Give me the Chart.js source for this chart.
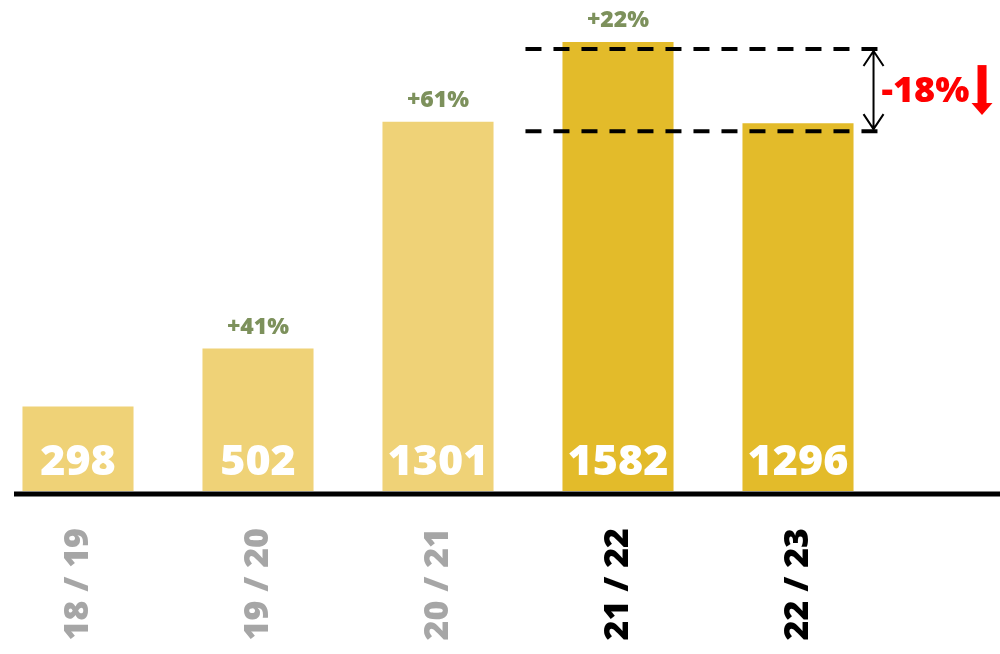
<!DOCTYPE html>
<html>
<head>
<meta charset="utf-8">
<script src="https://cdn.jsdelivr.net/npm/chart.js@4"></script>
<style>
    html, body { margin: 0; padding: 0; background: #fff; overflow: hidden; }
    #wrap { position: absolute; left: -12px; top: 0; width: 1012px; height: 654px; }
</style>
</head>
<body>
<div id="wrap"><canvas id="chart"></canvas></div>
<script>
// Data
var seasons = ['18 / 19', '19 / 20', '20 / 21', '21 / 22', '22 / 23'];
var counts = [298, 502, 1301, 1582, 1296];
var growthLabels = ['', '+41%', '+61%', '+22%', ''];
var dropLabel = '-18%';

var barColors = ['#efd277', '#efd277', '#efd277', '#e3bb2a', '#e3bb2a'];
var tickColors = ['#a6a6a6', '#a6a6a6', '#a6a6a6', '#000000', '#000000'];
var FONT = '"Open Sans", sans-serif';

// Draws value labels, growth labels, baseline and the drop annotation
var annotations = {
    id: 'annotations',
    afterDatasetsDraw: function(chart) {
        var ctx = chart.ctx;
        var bars = chart.getDatasetMeta(0).data;
        ctx.save();

        // values inside bars
        ctx.textAlign = 'center';
        ctx.textBaseline = 'alphabetic';
        ctx.fillStyle = '#ffffff';
        ctx.font = '800 43px ' + FONT;
        bars.forEach(function(bar, i) {
            ctx.fillText(String(counts[i]), bar.x, bar.base - 16);
        });

        // growth above bars
        ctx.fillStyle = '#7d915c';
        ctx.font = '800 23px ' + FONT;
        bars.forEach(function(bar, i) {
            if (growthLabels[i]) ctx.fillText(growthLabels[i], bar.x, bar.y - 15);
        });

        // baseline
        ctx.strokeStyle = '#000';
        ctx.lineWidth = 5;
        ctx.beginPath();
        ctx.moveTo(26, bars[0].base + 3);
        ctx.lineTo(chart.width, bars[0].base + 3);
        ctx.stroke();

        // dashed guides between 21/22 and 22/23
        var hi = bars[3], lo = bars[4];
        var x0 = hi.x - hi.width / 2 - 37;
        var x1 = lo.x + lo.width / 2 + 28;
        var yHi = hi.y + 7, yLo = lo.y + 8;
        ctx.lineWidth = 4;
        ctx.setLineDash([16, 12]);
        ctx.beginPath();
        ctx.moveTo(x0, yHi); ctx.lineTo(x1, yHi);
        ctx.moveTo(x0, yLo); ctx.lineTo(x1, yLo);
        ctx.stroke();
        ctx.setLineDash([]);

        // double headed arrow
        var ax = lo.x + lo.width / 2 + 20;
        ctx.lineWidth = 2;
        ctx.beginPath();
        ctx.moveTo(ax, yHi + 2); ctx.lineTo(ax, yLo - 2);
        ctx.moveTo(ax - 10, yHi + 17); ctx.lineTo(ax, yHi + 2); ctx.lineTo(ax + 10, yHi + 17);
        ctx.moveTo(ax - 10, yLo - 17); ctx.lineTo(ax, yLo - 2); ctx.lineTo(ax + 10, yLo - 17);
        ctx.stroke();

        // red drop label + arrow
        var mid = (yHi + yLo) / 2;
        ctx.fillStyle = '#ff0000';
        ctx.font = '800 36px ' + FONT;
        ctx.textAlign = 'left';
        ctx.textBaseline = 'middle';
        ctx.fillText(dropLabel, ax + 8, mid + 2);
        var rx = ax + 108;
        ctx.fillRect(rx - 4, mid - 25, 9, 40);
        ctx.beginPath();
        ctx.moveTo(rx - 10, mid + 13);
        ctx.lineTo(rx + 11, mid + 13);
        ctx.lineTo(rx + 0.5, mid + 25);
        ctx.closePath();
        ctx.fill();

        ctx.restore();
    }
};

new Chart(document.getElementById('chart'), {
    type: 'bar',
    data: {
        labels: seasons,
        datasets: [{
            data: counts,
            backgroundColor: barColors,
            borderWidth: 0,
            categoryPercentage: 1,
            barPercentage: 0.617
        }]
    },
    options: {
        responsive: true,
        maintainAspectRatio: false,
        animation: false,
        layout: { padding: { top: 42, right: 112, left: 0, bottom: 0 } },
        plugins: {
            legend: { display: false },
            tooltip: { enabled: false }
        },
        scales: {
            x: {
                grid: { display: false, drawTicks: false },
                border: { display: false },
                afterFit: function(scale) { scale.height = 163; },
                ticks: {
                    minRotation: 90,
                    maxRotation: 90,
                    padding: 37,
                    color: function(c) { return tickColors[c.index]; },
                    font: { family: FONT, size: 34, weight: '800' }
                }
            },
            y: {
                display: false,
                min: 0,
                max: Math.max.apply(null, counts)
            }
        }
    },
    plugins: [annotations]
});
</script>
</body>
</html>
